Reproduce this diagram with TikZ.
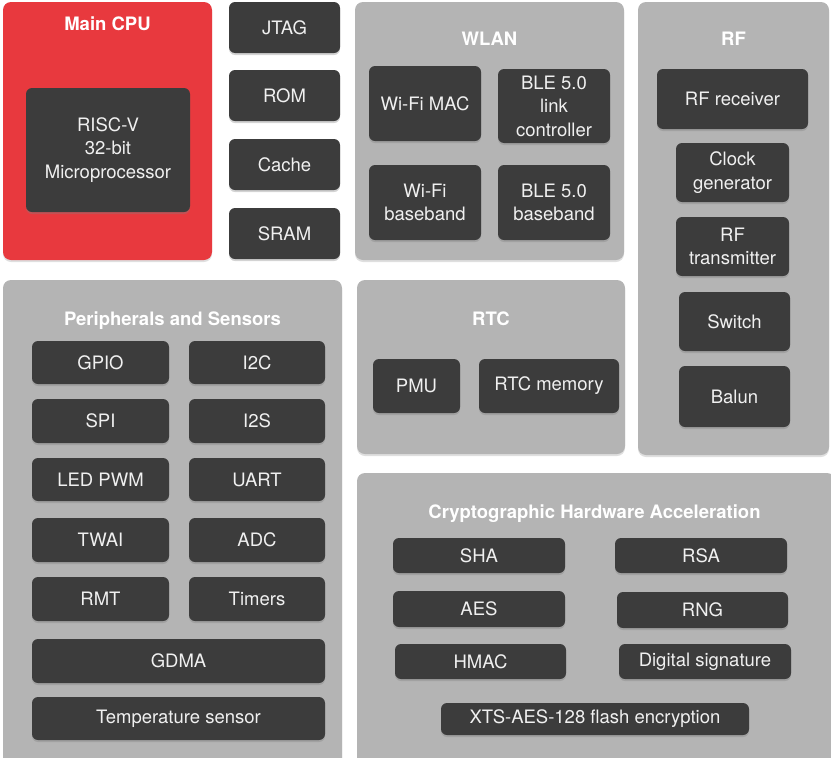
\documentclass[tikz,border=0pt]{standalone}
\usepackage{fontspec}
\setmainfont{TeX Gyre Heros}
\usepackage{tikz}
\usetikzlibrary{shadows}

\definecolor{cpured}{HTML}{E8393E}
\definecolor{groupgray}{HTML}{B4B4B4}
\definecolor{blockdark}{HTML}{3C3C3C}
\definecolor{blocktext}{HTML}{F0F0F0}

\begin{document}
\begin{tikzpicture}[
    x=1pt, y=-1pt,
    group/.style={rectangle, fill=groupgray, rounded corners=8pt, inner sep=0pt,
        drop shadow={shadow xshift=0pt, shadow yshift=-2pt, opacity=0.25}},
    cpugroup/.style={group, fill=cpured},
    title/.style={anchor=base, text=white, font=\fontsize{18.5}{22}\selectfont\bfseries},
    block/.style={rectangle, fill=blockdark, rounded corners=6pt, inner sep=0pt, align=center,
        text=blocktext, font=\fontsize{18.5}{23.5}\selectfont,
        drop shadow={shadow xshift=0pt, shadow yshift=-2pt, opacity=0.35}}
]
\useasboundingbox (0,0) rectangle (831,758);

% groups
\node[cpugroup, minimum width=209, minimum height=258] (cpu) at (107.5,131) {};
\node[group, minimum width=269, minimum height=258] (wlan) at (489.5,131) {};
\node[group, minimum width=191, minimum height=453] (rf) at (733.5,228.5) {};
\node[group, minimum width=339, minimum height=490] (periph) at (172.5,525) {};
\node[group, minimum width=268, minimum height=174] (rtc) at (491,367) {};
\node[group, minimum width=478, minimum height=300] (crypto) at (596,623) {};

% group titles
\node[title] (cputitle) at (107.5,30) {Main CPU};
\node[title] (wlantitle) at (489.5,45) {WLAN};
\node[title] (rftitle) at (733.5,45) {RF};
\node[title] (periphtitle) at (172.5,325) {Peripherals and Sensors};
\node[title] (rtctitle) at (491,325) {RTC};
\node[title] (cryptotitle) at (594.5,518) {Cryptographic Hardware Acceleration};

% main CPU and memory
\node[block, minimum width=164, minimum height=124] (riscv) at (108,150) {RISC-V\\32-bit\\Microprocessor};
\node[block, minimum width=111, minimum height=51] (jtag) at (284.5,27.5) {JTAG};
\node[block, minimum width=111, minimum height=51] (rom) at (284.5,95.5) {ROM};
\node[block, minimum width=111, minimum height=51] (cache) at (284.5,164.5) {Cache};
\node[block, minimum width=111, minimum height=51] (sram) at (284.5,233.5) {SRAM};

% WLAN
\node[block, minimum width=112, minimum height=75] (wifimac) at (425,103.5) {Wi-Fi MAC};
\node[block, minimum width=112, minimum height=74] (blelink) at (554,106) {BLE 5.0\\link\\controller};
\node[block, minimum width=112, minimum height=75] (wifibb) at (425,202.5) {Wi-Fi\\baseband};
\node[block, minimum width=112, minimum height=75] (blebb) at (554,202.5) {BLE 5.0\\baseband};

% RF
\node[block, minimum width=151, minimum height=60] (rfrx) at (732.5,99) {RF receiver};
\node[block, minimum width=113, minimum height=59] (clkgen) at (732.5,172.5) {Clock\\generator};
\node[block, minimum width=113, minimum height=59] (rftx) at (732.5,246.5) {RF\\transmitter};
\node[block, minimum width=111, minimum height=59] (switch) at (734.5,321.5) {Switch};
\node[block, minimum width=111, minimum height=61] (balun) at (734.5,396.5) {Balun};

% peripherals and sensors
\node[block, minimum width=137, minimum height=43] (gpio) at (100.5,362.5) {GPIO};
\node[block, minimum width=136, minimum height=43] (i2c) at (257,362.5) {I2C};
\node[block, minimum width=137, minimum height=44] (spi) at (100.5,421) {SPI};
\node[block, minimum width=136, minimum height=44] (i2s) at (257,421) {I2S};
\node[block, minimum width=137, minimum height=43] (ledpwm) at (100.5,479.5) {LED PWM};
\node[block, minimum width=136, minimum height=43] (uart) at (257,479.5) {UART};
\node[block, minimum width=137, minimum height=44] (twai) at (100.5,540) {TWAI};
\node[block, minimum width=136, minimum height=44] (adc) at (257,540) {ADC};
\node[block, minimum width=137, minimum height=44] (rmt) at (100.5,599) {RMT};
\node[block, minimum width=136, minimum height=44] (timers) at (257,599) {Timers};
\node[block, minimum width=293, minimum height=44] (gdma) at (178.5,661) {GDMA};
\node[block, minimum width=293, minimum height=43] (tempsens) at (178.5,718.5) {Temperature sensor};

% RTC
\node[block, minimum width=87, minimum height=54] (pmu) at (416.5,386) {PMU};
\node[block, minimum width=140, minimum height=54] (rtcmem) at (549,386) {RTC memory};

% cryptographic hardware acceleration
\node[block, minimum width=172, minimum height=35] (sha) at (479,555.5) {SHA};
\node[block, minimum width=172, minimum height=35] (rsa) at (701,555.5) {RSA};
\node[block, minimum width=172, minimum height=36] (aes) at (479,609) {AES};
\node[block, minimum width=171, minimum height=36] (rng) at (702.5,610) {RNG};
\node[block, minimum width=171, minimum height=35] (hmac) at (480.5,661.5) {HMAC};
\node[block, minimum width=172, minimum height=35] (digsig) at (705,661.5) {Digital signature};
\node[block, minimum width=308, minimum height=32] (xts) at (595,719) {XTS-AES-128 flash encryption};

\end{tikzpicture}
\end{document}
